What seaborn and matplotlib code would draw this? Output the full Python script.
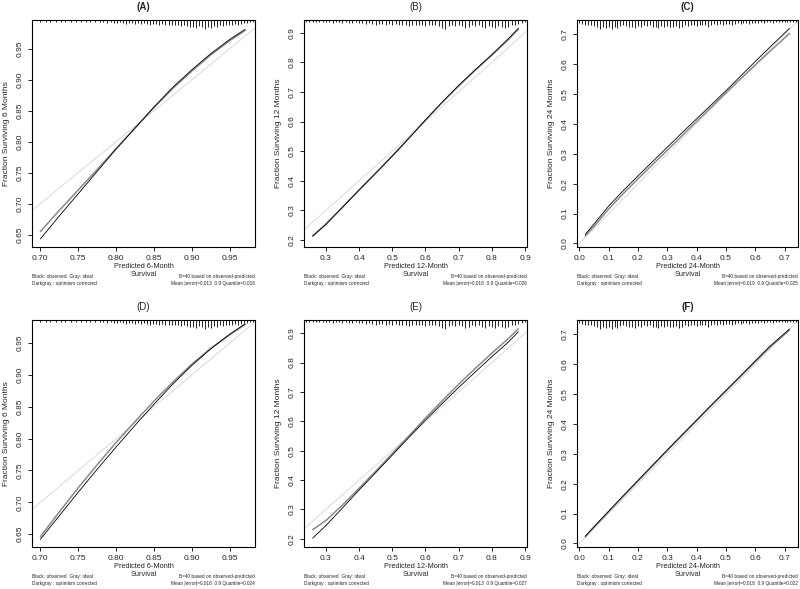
import numpy as np
import pandas as pd
import matplotlib
matplotlib.use("Agg")
import matplotlib.pyplot as plt
import seaborn as sns

# ---- data ----
titles = ["(A)", "(B)", "(C)", "(D)", "(E)", "(F)"]
bold_title = [True, False, True, False, False, True]
horizons = ["6", "12", "24", "6", "12", "24"]
mean_err = ["0.013", "0.018", "0.019", "0.016", "0.013", "0.018"]
q90_err = ["0.016", "0.026", "0.025", "0.024", "0.027", "0.022"]

x_6m = [0.700, 0.725, 0.750, 0.775, 0.800, 0.825, 0.850, 0.875, 0.900, 0.925, 0.950, 0.970]
obs_A = [0.643, 0.680, 0.716, 0.752, 0.788, 0.822, 0.856, 0.888, 0.916, 0.942, 0.965, 0.981]
cor_A = [0.655, 0.689, 0.722, 0.755, 0.789, 0.822, 0.855, 0.886, 0.914, 0.940, 0.963, 0.979]
obs_D = [0.642, 0.679, 0.716, 0.752, 0.787, 0.821, 0.854, 0.886, 0.915, 0.941, 0.964, 0.980]
cor_D = [0.646, 0.685, 0.723, 0.759, 0.794, 0.827, 0.859, 0.889, 0.917, 0.942, 0.963, 0.979]

x_12m = [0.26, 0.30, 0.35, 0.40, 0.45, 0.50, 0.55, 0.60, 0.65, 0.70, 0.75, 0.80, 0.85, 0.88]
obs_B = [0.212, 0.252, 0.310, 0.368, 0.425, 0.483, 0.543, 0.605, 0.665, 0.722, 0.775, 0.826, 0.880, 0.915]
cor_B = [0.214, 0.254, 0.311, 0.369, 0.426, 0.484, 0.544, 0.605, 0.664, 0.720, 0.773, 0.824, 0.877, 0.912]
obs_E = [0.202, 0.245, 0.305, 0.366, 0.425, 0.485, 0.545, 0.604, 0.660, 0.715, 0.768, 0.820, 0.870, 0.905]
cor_E = [0.231, 0.262, 0.315, 0.372, 0.430, 0.490, 0.550, 0.611, 0.669, 0.726, 0.780, 0.832, 0.882, 0.915]

x_24m = [0.02, 0.05, 0.10, 0.15, 0.20, 0.25, 0.30, 0.35, 0.40, 0.45, 0.50, 0.55, 0.60, 0.65, 0.717]
obs_C = [0.030, 0.065, 0.125, 0.177, 0.226, 0.274, 0.322, 0.370, 0.417, 0.464, 0.511, 0.560, 0.609, 0.657, 0.720]
cor_C = [0.025, 0.057, 0.115, 0.167, 0.216, 0.264, 0.312, 0.360, 0.408, 0.456, 0.504, 0.551, 0.597, 0.643, 0.703]
obs_F = [0.024, 0.056, 0.108, 0.160, 0.211, 0.262, 0.313, 0.363, 0.413, 0.463, 0.512, 0.561, 0.611, 0.660, 0.718]
cor_F = [0.022, 0.054, 0.106, 0.158, 0.209, 0.260, 0.311, 0.361, 0.411, 0.461, 0.510, 0.559, 0.608, 0.657, 0.714]

# distribution of predictions (rug at top of each panel)
rug_6m_pos = [0.700, 0.707, 0.713, 0.720, 0.727, 0.733, 0.740, 0.747, 0.753, 0.760, 0.766, 0.772,
              0.778, 0.783, 0.788, 0.793, 0.797, 0.801, 0.805, 0.809, 0.813, 0.817, 0.821, 0.825,
              0.829, 0.833, 0.837, 0.841, 0.845, 0.849, 0.853, 0.857, 0.861, 0.865, 0.869, 0.873,
              0.877, 0.881, 0.885, 0.889, 0.893, 0.897, 0.901, 0.905, 0.909, 0.913, 0.917, 0.921,
              0.925, 0.929, 0.933, 0.937, 0.941, 0.945, 0.949, 0.953, 0.957, 0.961, 0.965, 0.969,
              0.973, 0.977, 0.981]
rug_6m_cnt = [1, 1, 1, 1, 1, 1, 1, 1, 1, 1, 1, 1,
              1, 1, 2, 1, 2, 2, 1, 2, 3, 2, 2, 3,
              2, 3, 2, 3, 4, 3, 3, 4, 3, 4, 4, 5,
              4, 5, 6, 5, 6, 8, 7, 9, 6, 8, 10, 7,
              9, 6, 8, 5, 6, 4, 5, 4, 3, 4, 3, 2,
              2, 1, 1]
rug_12m_pos = [0.24, 0.25, 0.26, 0.27, 0.28, 0.29, 0.30, 0.31, 0.32, 0.33, 0.34, 0.35,
               0.36, 0.37, 0.38, 0.39, 0.40, 0.41, 0.42, 0.43, 0.44, 0.45, 0.46, 0.47,
               0.48, 0.49, 0.50, 0.51, 0.52, 0.53, 0.54, 0.55, 0.56, 0.57, 0.58, 0.59,
               0.60, 0.61, 0.62, 0.63, 0.64, 0.65, 0.66, 0.67, 0.68, 0.69, 0.70, 0.71,
               0.72, 0.73, 0.74, 0.75, 0.76, 0.77, 0.78, 0.79, 0.80, 0.81, 0.82, 0.83,
               0.84, 0.85, 0.86, 0.87, 0.88, 0.89, 0.90]
rug_12m_cnt = [1, 1, 1, 1, 1, 1, 1, 1, 2, 1, 1, 2,
               1, 2, 2, 1, 2, 2, 3, 2, 3, 5, 3, 3,
               4, 3, 4, 3, 4, 5, 4, 6, 4, 5, 4, 5,
               6, 5, 4, 5, 6, 9, 10, 6, 5, 6, 5, 6,
               9, 8, 5, 6, 5, 8, 9, 6, 7, 9, 6, 8,
               9, 8, 5, 4, 3, 2, 1]
rug_24m_pos = [0.00, 0.01, 0.02, 0.03, 0.04, 0.05, 0.06, 0.07, 0.08, 0.09, 0.10, 0.11,
               0.12, 0.13, 0.14, 0.15, 0.16, 0.17, 0.18, 0.19, 0.20, 0.21, 0.22, 0.23,
               0.24, 0.25, 0.26, 0.27, 0.28, 0.29, 0.30, 0.31, 0.32, 0.33, 0.34, 0.35,
               0.36, 0.37, 0.38, 0.39, 0.40, 0.41, 0.42, 0.43, 0.44, 0.45, 0.46, 0.47,
               0.48, 0.49, 0.50, 0.51, 0.52, 0.53, 0.54, 0.55, 0.56, 0.57, 0.58, 0.59,
               0.60, 0.61, 0.62, 0.63, 0.64, 0.65, 0.66, 0.67, 0.68, 0.69, 0.70, 0.71,
               0.72, 0.73, 0.74]
rug_24m_cnt = [2, 3, 4, 5, 4, 6, 8, 10, 7, 9, 8, 10,
               7, 9, 6, 5, 6, 8, 7, 9, 6, 7, 5, 6,
               5, 8, 7, 9, 6, 8, 6, 7, 8, 6, 9, 7,
               5, 6, 4, 5, 6, 4, 5, 4, 8, 4, 3, 4,
               3, 4, 3, 3, 5, 3, 2, 3, 2, 2, 3, 2,
               2, 2, 1, 2, 1, 1, 2, 1, 1, 1, 1, 1,
               1, 1, 1]

xlims = [(0.689, 0.983), (0.234, 0.906), (-0.008, 0.746),
         (0.689, 0.983), (0.234, 0.906), (-0.008, 0.746)]
ylims = [(0.630, 0.996), (0.176, 0.943), (-0.012, 0.748),
         (0.630, 0.986), (0.172, 0.945), (-0.012, 0.748)]
xticks_6m = [0.70, 0.75, 0.80, 0.85, 0.90, 0.95]
yticks_6m = [0.65, 0.70, 0.75, 0.80, 0.85, 0.90, 0.95]
xticks_12m = [0.3, 0.4, 0.5, 0.6, 0.7, 0.8, 0.9]
yticks_12m = [0.2, 0.3, 0.4, 0.5, 0.6, 0.7, 0.8, 0.9]
ticks_24m = [0.0, 0.1, 0.2, 0.3, 0.4, 0.5, 0.6, 0.7]

# ---- assemble per-panel ----
curve_x = [x_6m, x_12m, x_24m, x_6m, x_12m, x_24m]
curve_obs = [obs_A, obs_B, obs_C, obs_D, obs_E, obs_F]
curve_cor = [cor_A, cor_B, cor_C, cor_D, cor_E, cor_F]
rugs = [(rug_6m_pos, rug_6m_cnt), (rug_12m_pos, rug_12m_cnt), (rug_24m_pos, rug_24m_cnt)] * 2
xticks = [xticks_6m, xticks_12m, ticks_24m] * 2
yticks = [yticks_6m, yticks_12m, ticks_24m] * 2
fmts = ["%.2f", "%.1f", "%.1f"] * 2

sns.set_theme(style="ticks")
plt.rcParams["font.family"] = ["Liberation Sans", "DejaVu Sans"]

W, H = 800, 589
fig = plt.figure(figsize=(W / 100, H / 100), dpi=100)

lefts = [32, 304, 577]
widths = [223, 223, 221]
tops = [20, 320]
ah = 227

for i in range(6):
    r, c = divmod(i, 3)
    ax = fig.add_axes([lefts[c] / W, 1 - (tops[r] + ah) / H, widths[c] / W, ah / H])

    ax.axline((0, 0), slope=1, color="#d4d4d4", lw=0.6, zorder=1)
    df = pd.DataFrame({"x": curve_x[i], "obs": curve_obs[i], "cor": curve_cor[i]})
    sns.lineplot(data=df, x="x", y="cor", color="#8a8a8a", lw=1.1, ax=ax, zorder=2)
    sns.lineplot(data=df, x="x", y="obs", color="black", lw=0.6, ax=ax, zorder=3)

    # rug of predicted values hanging from the top spine
    pos, cnt = rugs[i]
    h = 0.008 + np.array(cnt) / max(cnt) * 0.03
    ax.vlines(pos, 1 - h, 1, transform=ax.get_xaxis_transform(), color="black", lw=0.6)

    ax.set_xlim(*xlims[i])
    ax.set_ylim(*ylims[i])
    ax.set_xticks(xticks[i])
    ax.set_yticks(yticks[i])
    ax.set_xticklabels([fmts[i] % v for v in xticks[i]])
    ax.set_yticklabels([fmts[i] % v for v in yticks[i]])
    ax.tick_params(direction="out", length=3, width=0.6, labelsize=6, pad=3, color="black")
    plt.setp(ax.get_yticklabels(), rotation=90, va="center")
    for s in ax.spines.values():
        s.set_linewidth(0.8)
        s.set_color("black")

    ax.set_xlabel(f"Predicted {horizons[i]}-Month\nSurvival", fontsize=5.3, linespacing=1.05)
    ax.xaxis.set_label_coords(0.5, -0.072)
    ax.set_ylabel(f"Fraction Surviving {horizons[i]} Months", fontsize=6)
    ax.yaxis.set_label_coords(-0.10, 0.5)
    ax.set_title(titles[i], fontsize=7, pad=7,
                 fontweight="bold" if bold_title[i] else "normal")

    ax.text(0.0, -0.12, "Black: observed  Gray: ideal\nDarkgray : optimism corrected",
            transform=ax.transAxes, fontsize=3.4, va="top", ha="left", linespacing=1.35)
    ax.text(1.0, -0.12,
            f"B=40 based on observed-predicted\nMean |error|={mean_err[i]}  0.9 Quantile={q90_err[i]}",
            transform=ax.transAxes, fontsize=3.4, va="top", ha="right", linespacing=1.35,
            multialignment="right")

fig.savefig("out.png", dpi=100)
